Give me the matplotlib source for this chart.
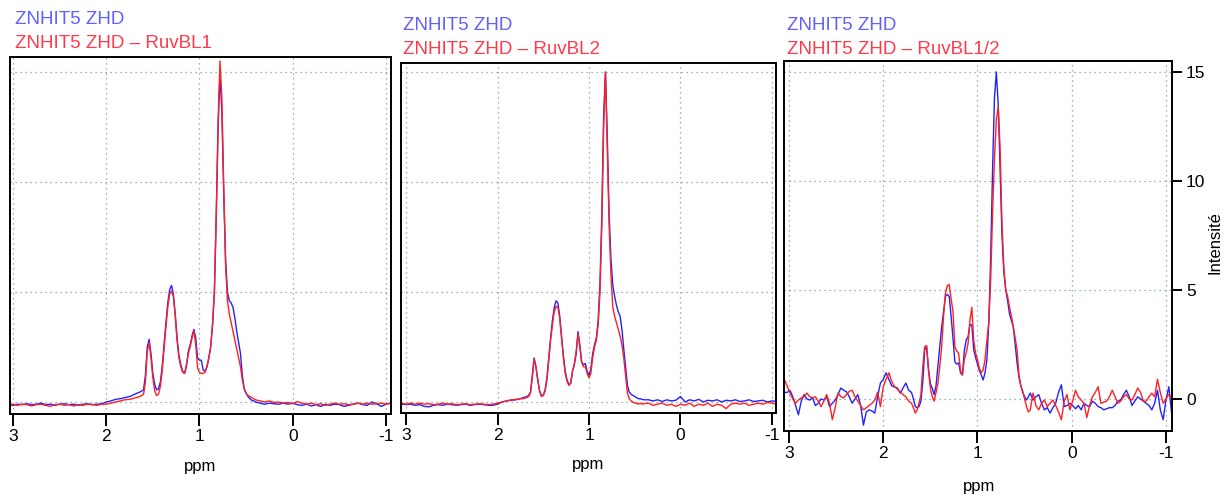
import numpy as np
import matplotlib
matplotlib.use("Agg")
import matplotlib.pyplot as plt

plt.rcParams["font.family"] = ["Liberation Sans", "DejaVu Sans"]

W, H = 1227, 496

# chemical shift grids (ppm), coarse on the baseline, finer across the peaks
ppm_a = np.round(np.concatenate([np.linspace(3.05, 1.75, 27),
                                 np.linspace(1.72, 0.40, 67),
                                 np.linspace(0.35, -1.05, 29)]), 2)
ppm_c = np.round(np.concatenate([np.linspace(3.05, 1.73, 45),
                                 np.linspace(1.70, 0.44, 64),
                                 np.linspace(0.41, -1.06, 50)]), 2)

# panel 1 : ZNHIT5 ZHD vs ZNHIT5 ZHD - RuvBL1
p1_blue = [
    -0.15, -0.15, -0.10, -0.12, -0.08, -0.12, -0.10, -0.05, -0.12, -0.10,
    -0.15, -0.10, -0.08, -0.12, -0.10, -0.15, -0.10, -0.08, -0.12, -0.10,
    -0.08, 0.00, 0.05, 0.12, 0.15, 0.20, 0.25,
    0.30, 0.35, 0.38, 0.42, 0.45, 0.50, 0.55, 1.20, 2.50, 2.85,
    2.20, 1.30, 0.80, 0.55, 0.60, 0.90, 1.60, 2.60, 3.60, 4.50,
    5.10, 5.30, 4.90, 4.00, 2.90, 2.10, 1.70, 1.40, 1.30, 1.60,
    2.30, 2.60, 3.00, 3.30, 2.90, 2.00, 1.90, 1.90, 1.45, 1.40,
    1.60, 2.00, 2.50, 3.50, 5.00, 8.50, 12.5, 14.9, 13.2, 9.50,
    6.50, 5.00, 4.60, 4.50, 4.30, 3.80, 3.20, 2.70, 2.20, 1.20,
    0.60, 0.40, 0.25, 0.15, 0.08, 0.05, 0.00,
    -0.05, -0.10, -0.05, -0.08, -0.10, -0.05, -0.10, -0.05, -0.12, -0.15,
    -0.10, -0.18, -0.12, -0.20, -0.10, -0.15, -0.10, -0.12, -0.20, -0.15,
    -0.10, -0.05, -0.12, -0.15, 0.00, -0.08, -0.20, -0.10, -0.05,
]
p1_red = [
    -0.12, -0.10, -0.15, -0.10, -0.12, -0.18, -0.12, -0.10, -0.15, -0.20,
    -0.12, -0.10, -0.15, -0.12, -0.18, -0.12, -0.15, -0.10, -0.12, -0.15,
    -0.10, -0.10, -0.05, 0.00, 0.05, 0.10, 0.12,
    0.15, 0.18, 0.20, 0.22, 0.25, 0.30, 0.35, 0.90, 2.30, 2.70,
    2.00, 1.10, 0.50, 0.30, 0.35, 0.70, 1.40, 2.40, 3.40, 4.30,
    4.90, 5.05, 4.80, 3.90, 2.80, 2.00, 1.60, 1.35, 1.30, 1.70,
    2.20, 2.50, 2.90, 3.25, 2.60, 1.55, 1.35, 1.30, 1.30, 1.35,
    1.60, 2.00, 2.50, 3.50, 5.00, 8.50, 12.8, 15.5, 13.8, 9.80,
    6.20, 4.60, 4.00, 3.60, 3.20, 2.80, 2.40, 2.00, 1.60, 1.00,
    0.60, 0.40, 0.30, 0.25, 0.20, 0.15, 0.10,
    0.05, 0.00, 0.05, -0.02, 0.00, -0.05, -0.02, -0.08, 0.02, -0.05,
    -0.10, -0.05, -0.12, -0.08, -0.15, -0.10, -0.05, -0.10, -0.08, -0.12,
    -0.10, -0.05, -0.10, -0.05, -0.10, -0.08, -0.05, -0.10, -0.05,
]

# panel 2 : ZNHIT5 ZHD vs ZNHIT5 ZHD - RuvBL2
p2_blue = [
    -0.10, -0.12, -0.10, -0.15, -0.12, -0.20, -0.22, -0.15, -0.12, -0.15,
    -0.10, -0.12, -0.15, -0.12, -0.10, -0.15, -0.12, -0.10, -0.12, -0.15,
    -0.15, -0.10, 0.00, 0.05, 0.08, 0.10, 0.15,
    0.20, 0.22, 0.25, 0.30, 0.45, 1.20, 2.00, 1.60, 1.00, 0.50,
    0.30, 0.30, 0.55, 1.10, 2.00, 2.90, 3.70, 4.30, 4.60, 4.50,
    3.90, 3.00, 2.10, 1.40, 1.00, 0.80, 0.85, 1.40, 1.70, 2.20,
    3.20, 2.60, 1.80, 1.70, 1.75, 1.40, 1.20, 1.50, 2.20, 2.60,
    2.90, 3.70, 5.40, 8.50, 13.0, 15.0, 12.0, 8.50, 6.50, 5.30,
    4.80, 4.40, 4.10, 3.90, 3.30, 2.40, 1.60, 0.75, 0.45, 0.35,
    0.30, 0.25, 0.20, 0.15, 0.15, 0.12, 0.10,
    0.10, 0.05, 0.10, 0.02, 0.10, 0.05, 0.08, 0.25, 0.00, 0.10,
    0.05, 0.12, 0.00, 0.08, 0.05, 0.10, 0.00, 0.08, 0.05, 0.10,
    0.02, 0.05, 0.10, 0.02, 0.05, 0.08, 0.00, 0.05, 0.02,
]
p2_red = [
    -0.05, -0.10, -0.05, -0.10, -0.05, -0.10, -0.08, -0.12, -0.10, -0.05,
    -0.10, -0.08, -0.12, -0.10, -0.08, -0.12, -0.10, -0.08, -0.10, -0.12,
    -0.10, -0.05, 0.00, 0.05, 0.10, 0.12, 0.15,
    0.15, 0.18, 0.20, 0.25, 0.40, 1.10, 1.95, 1.60, 1.00, 0.50,
    0.25, 0.30, 0.50, 1.00, 1.90, 2.80, 3.50, 4.10, 4.35, 4.30,
    3.80, 2.90, 2.00, 1.30, 0.95, 0.75, 0.85, 1.40, 1.75, 2.30,
    3.10, 2.50, 1.80, 1.60, 1.60, 1.30, 1.10, 1.30, 2.00, 2.50,
    2.80, 3.50, 5.00, 8.00, 12.5, 15.0, 11.5, 8.00, 5.80, 4.30,
    3.90, 3.60, 3.30, 3.00, 2.60, 2.00, 1.20, 0.40, 0.15, 0.05,
    0.00, -0.05, -0.05, -0.10, -0.05, -0.10, -0.08,
    -0.05, -0.15, -0.10, -0.05, -0.15, -0.10, -0.20, -0.10, -0.15, -0.05,
    -0.20, -0.10, -0.15, -0.05, -0.20, -0.10, -0.15, -0.30, -0.10, -0.05,
    -0.10, -0.05, -0.15, -0.10, -0.05, -0.10, -0.02, -0.05, -0.10,
]

# panel 3 : ZNHIT5 ZHD vs ZNHIT5 ZHD - RuvBL1/2
p3_blue = [
    0.30, 0.30, 0.40, 0.10, -0.30, -0.73, -0.10, 0.20, 0.00, -0.05,
    0.05, -0.30, -0.20, 0.00, -0.05, 0.10, -0.35, -0.20, -0.05, 0.20,
    0.50, 0.40, 0.33, 0.10, -0.20, 0.00, 0.20, -0.30, -1.20, -0.60,
    -0.50, -0.55, -0.65, 0.10, 0.73, 0.90, 1.20, 0.90, 0.60, 0.55,
    0.50, 0.27, 0.50, 0.73, 0.40,
    0.30, 0.00, -0.35, -0.40, -0.35, -0.10, 0.80, 2.25, 2.40, 1.40,
    0.70, 0.50, 0.20, 0.60, 1.50, 2.40, 3.30, 4.00, 4.70, 4.80,
    4.70, 3.80, 2.80, 1.70, 1.60, 1.65, 1.20, 1.10, 2.20, 2.70,
    2.85, 3.40, 3.40, 2.25, 1.90, 1.60, 1.30, 1.10, 0.87, 1.20,
    1.80, 3.50, 6.50, 10.5, 13.8, 15.0, 13.5, 10.5, 7.50, 5.80,
    5.00, 4.50, 3.90, 3.60, 3.30, 2.50, 1.65, 1.00, 0.60, 0.30,
    0.10, -0.05, 0.10, 0.27,
    -0.05, 0.10, 0.20, -0.20, -0.50, -0.40, -0.65, -0.40, -0.20, 0.30,
    0.65, -0.35, -0.30, -0.20, -0.30, -0.45, -0.30, -0.50, -0.20, -0.30,
    -0.35, -0.10, -0.20, -0.35, -0.40, -0.50, -0.45, -0.40, -0.40, -0.30,
    -0.10, -0.05, 0.20, 0.40, 0.10, -0.30, -0.10, 0.10, 0.00, -0.10,
    -0.20, -0.30, -0.50, -0.20, 0.40, -0.50, -0.95, -0.05, 0.56, -0.65,
]
p3_red = [
    0.90, 0.60, 0.27, 0.00, -0.20, -0.05, 0.05, 0.10, 0.27, 0.10,
    0.05, 0.10, -0.10, -0.35, -0.10, 0.20, -0.20, -0.95, -0.40, 0.27,
    0.10, 0.05, 0.20, 0.35, 0.40, 0.10, -0.10, -0.30, -0.50, -0.40,
    -0.30, -0.20, -0.05, 0.30, -0.35, 0.56, 0.90, 1.20, 0.80, 0.56,
    0.45, 0.33, 0.20, 0.10, -0.10,
    -0.20, -0.40, -0.65, -0.50, -0.20, 0.20, 1.50, 2.40, 2.45, 1.30,
    0.50, 0.10, -0.10, 0.30, 0.70, 1.50, 2.40, 3.80, 4.85, 5.20,
    5.25, 4.60, 4.00, 2.40, 2.20, 2.10, 1.30, 1.10, 1.80, 2.10,
    2.55, 3.60, 4.20, 2.70, 2.10, 1.80, 1.40, 1.20, 1.33, 1.80,
    2.70, 3.50, 5.50, 8.50, 11.0, 12.8, 13.4, 11.5, 8.00, 6.00,
    5.00, 4.70, 4.20, 3.80, 3.30, 2.80, 2.25, 1.10, 0.60, 0.35,
    0.00, -0.35, -0.60, -0.50,
    0.27, -0.30, -0.50, -0.20, -0.05, -0.35, -0.20, -0.05, -0.30, -0.60,
    -0.95, -0.10, 0.20, -0.50, -0.10, 0.40, 0.10, -0.05, -0.20, -0.85,
    -0.30, 0.10, 0.30, 0.56, -0.20, -0.15, -0.10, 0.10, 0.40, 0.10,
    -0.20, -0.10, 0.10, 0.20, 0.00, -0.05, 0.20, 0.50, 0.30, -0.10,
    -0.10, 0.10, 0.27, 0.10, 0.90, 0.30, -0.20, 0.00, 0.20, 0.05,
]

ref_label = "ZNHIT5 ZHD"
sample_labels = ["ZNHIT5 ZHD \u2013 RuvBL1", "ZNHIT5 ZHD \u2013 RuvBL2",
                 "ZNHIT5 ZHD \u2013 RuvBL1/2"]
x_ticks = [3, 2, 1, 0, -1]
y_ticks = [0, 5, 10, 15]

# layout in pixels: (left, right, top, bottom), xlim, ylim
boxes = [(10, 391, 57, 414), (401, 776, 63, 413), (784, 1172, 61, 431)]
xlims = [(3.032, -1.054), (3.055, -1.044), (3.053, -1.064)]
ylims = [(-0.545, 15.68), (-0.5, 15.41), (-1.47, 15.5)]
title_pos = [(15, 20, 44), (403, 26, 49), (787, 26, 49)]
ppm_pos = [(200, 467), (588, 465), (979, 487)]

panels = [(ppm_a, p1_blue, p1_red), (ppm_a, p2_blue, p2_red), (ppm_c, p3_blue, p3_red)]

fig = plt.figure(figsize=(W / 100, H / 100), dpi=100)

grid_color = "#7f9c9c"
for i, (ppm, blue, red) in enumerate(panels):
    l, r, t, b = boxes[i]
    ax = fig.add_axes([l / W, 1 - b / H, (r - l) / W, (b - t) / H])
    ax.plot(ppm, blue, color="#2222ff", lw=1.0)
    ax.plot(ppm, red, color="#ff2020", lw=1.0)
    ax.set_xlim(*xlims[i])
    ax.set_ylim(*ylims[i])
    ax.set_xticks(x_ticks)
    ax.set_xticklabels([str(v) for v in x_ticks])
    ax.set_yticks(y_ticks)
    ax.grid(True, color=grid_color, linestyle=(0, (1, 3)), linewidth=0.9)
    ax.tick_params(axis="x", direction="out", length=8.5, width=1.4, pad=2,
                   labelsize=12.5)
    for s in ax.spines.values():
        s.set_linewidth(1.4)
    if i < 2:
        ax.tick_params(axis="y", length=0, labelleft=False)
    else:
        ax.yaxis.tick_right()
        ax.tick_params(axis="y", direction="out", length=7, width=1.4, pad=3,
                       labelsize=12.5, labelright=True, labelleft=False)

    tx, ty1, ty2 = title_pos[i]
    fig.text(tx / W, 1 - ty1 / H, ref_label, color="#6161ff", fontsize=13.5,
             ha="left", va="center")
    fig.text(tx / W, 1 - ty2 / H, sample_labels[i], color="#ff3a4a",
             fontsize=13.5, ha="left", va="center")
    px, py = ppm_pos[i]
    fig.text(px / W, 1 - py / H, "ppm", fontsize=12, ha="center", va="center")

fig.text(1215 / W, 1 - 243 / H, "Intensit\u00e9", fontsize=12, rotation=90,
         ha="center", va="center")

fig.savefig("out.png", dpi=100)
